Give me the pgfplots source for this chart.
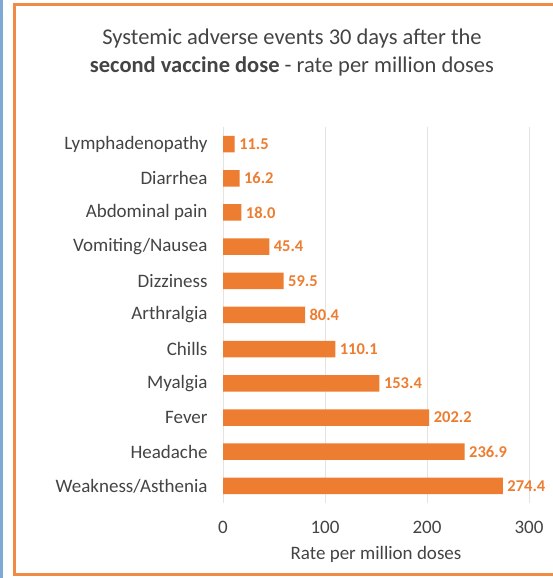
\documentclass[border=0pt]{standalone}
\usepackage{pgfplots}
\pgfplotsset{compat=1.18}
\usepackage{fontspec}
\setmainfont{Carlito}
\definecolor{barorange}{HTML}{ED7D31}
\definecolor{frameorange}{HTML}{F08A45}
\definecolor{txtgray}{HTML}{444444}
\definecolor{gridgray}{HTML}{E3E3E3}
\definecolor{edgeblue}{HTML}{7FAAD6}
\begin{document}
\begin{tikzpicture}[x=1pt,y=1pt]
\useasboundingbox (0,0) rectangle (552,578);
% panel frame and side rule
\fill[white] (0,0) rectangle (552,578);
\fill[edgeblue] (0,0) rectangle (3,578);
\draw[frameorange, line width=3pt] (14,3) rectangle (570,573);
% title
\node[txtgray, font=\fontsize{22.5}{26}\selectfont, anchor=center] at (292,539) {Systemic adverse events 30 days after the};
\node[txtgray, font=\fontsize{22.5}{26}\selectfont, anchor=center] at (292,512) {\textbf{second vaccine dose} - rate per million doses};
\begin{axis}[
  at={(223pt,75pt)}, anchor=south west,
  scale only axis, width=306pt, height=376pt,
  xbar, bar width=16.5pt,
  xmin=0, xmax=300,
  ymin=-0.5, ymax=10.5,
  xtick={0,100,200,300},
  ytick={0,...,10},
  yticklabels={Weakness/Asthenia,Headache,Fever,Myalgia,Chills,Arthralgia,Dizziness,Vomiting/Nausea,Abdominal pain,Diarrhea,Lymphadenopathy},
  axis line style={draw=none},
  major tick length=0pt,
  xmajorgrids, grid style={gridgray, line width=0.8pt},
  /pgf/number format/assume math mode=true,
  ticklabel style={txtgray, font=\fontsize{19}{21}\selectfont},
  xticklabel style={yshift=-15pt},
  yticklabel style={xshift=-12pt},
  xlabel={Rate per million doses},
  xlabel style={txtgray, font=\fontsize{19}{21}\selectfont, yshift=-5pt},
  nodes near coords,
  nodes near coords style={barorange, font=\fontsize{16.5}{18}\selectfont\bfseries, xshift=1pt,
    /pgf/number format/.cd, fixed, fixed zerofill, precision=1, assume math mode=true},
  clip=false,
]
\addplot[fill=barorange, draw=none] coordinates {
  (274.4,0) (236.9,1) (202.2,2) (153.4,3) (110.1,4) (80.4,5)
  (59.5,6) (45.4,7) (18.0,8) (16.2,9) (11.5,10)
};
\end{axis}
\end{tikzpicture}
\end{document}
